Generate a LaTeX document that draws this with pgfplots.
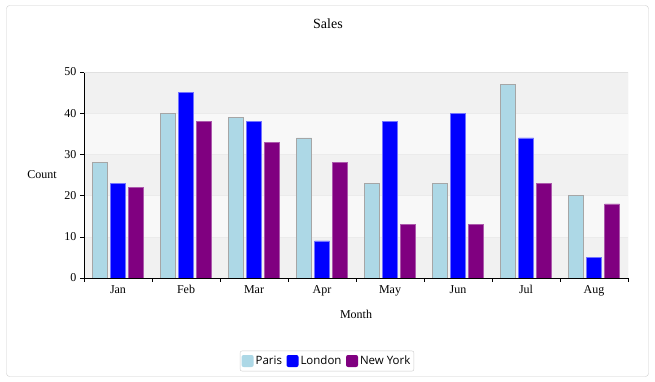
\documentclass[border=0pt]{standalone}
\usepackage{fontspec}
\setmainfont{Liberation Serif}
\newfontfamily\legfont{Open Sans}
\usepackage{pgfplots}
\pgfplotsset{compat=1.18}
\definecolor{paris}{HTML}{ADD8E6}
\definecolor{london}{HTML}{0000FF}
\definecolor{ny}{HTML}{800080}
\definecolor{bandA}{HTML}{F1F1F1}
\definecolor{bandB}{HTML}{F8F8F8}
\begin{document}
\begin{tikzpicture}[x=1pt,y=1pt]
\path (0,0) rectangle (655,382);
\draw[rounded corners=3pt, draw=black!20] (6.5,5.5) rectangle (648.5,376.5);
\begin{axis}[
  at={(84pt,104pt)}, anchor=south west,
  scale only axis, width=544pt, height=206pt,
  set layers,
  ybar=3pt, bar width=15pt,
  xmin=-0.5, xmax=7.5, ymin=0, ymax=50,
  xtick={-0.5,0.5,...,7.5},
  xticklabels={Jan,Feb,Mar,Apr,May,Jun,Jul,Aug},
  x tick label as interval,
  ytick={0,10,...,50},
  /pgf/number format/assume math mode=true,
  tick align=outside, major tick length=4pt,
  tick style={black},
  axis x line*=bottom, axis y line*=left,
  axis line style={black},
  ymajorgrids, grid style={black!8},
  tick label style={font=\fontsize{12}{14}\selectfont},
  title={Sales},
  title style={font=\fontsize{14}{16}\selectfont, at={(rel axis cs:0.4485,1)}, anchor=center, yshift=42pt},
  xlabel={Month},
  xlabel style={font=\fontsize{12}{14}\selectfont, at={(rel axis cs:0.5,0)}, anchor=center, yshift=-36pt},
  ylabel={Count},
  ylabel style={font=\fontsize{12}{14}\selectfont, rotate=-90, at={(rel axis cs:0,0.5)}, anchor=center, xshift=-42pt},
  legend columns=3,
  legend style={at={(rel axis cs:0.4467,-0.403)}, anchor=center, draw=black!20, rounded corners=2pt,
    font=\legfont\fontsize{11.5}{14}\selectfont, inner xsep=1.5pt, inner ysep=3pt,
    /tikz/every even column/.append style={column sep=2.5pt}},
  legend image code/.code={\path[#1, draw=none] (0pt,-6pt) rectangle (12pt,6pt);},
]
\begin{pgfonlayer}{axis background}
\fill[bandA] (axis cs:-0.5,0) rectangle (axis cs:7.5,10);
\fill[bandB] (axis cs:-0.5,10) rectangle (axis cs:7.5,20);
\fill[bandA] (axis cs:-0.5,20) rectangle (axis cs:7.5,30);
\fill[bandB] (axis cs:-0.5,30) rectangle (axis cs:7.5,40);
\fill[bandA] (axis cs:-0.5,40) rectangle (axis cs:7.5,50);
\end{pgfonlayer}
\addplot[fill=paris, draw=black!35] coordinates {(0,28) (1,40) (2,39) (3,34) (4,23) (5,23) (6,47) (7,20)};
\addplot[fill=london, draw=blue!55!white] coordinates {(0,23) (1,45) (2,38) (3,9) (4,38) (5,40) (6,34) (7,5)};
\addplot[fill=ny, draw=ny!65!white] coordinates {(0,22) (1,38) (2,33) (3,28) (4,13) (5,13) (6,23) (7,18)};
\legend{Paris,London,New York}
\draw[black!12] (rel axis cs:0,1) -- (rel axis cs:1,1) -- (rel axis cs:1,0);
\end{axis}
\end{tikzpicture}
\end{document}
